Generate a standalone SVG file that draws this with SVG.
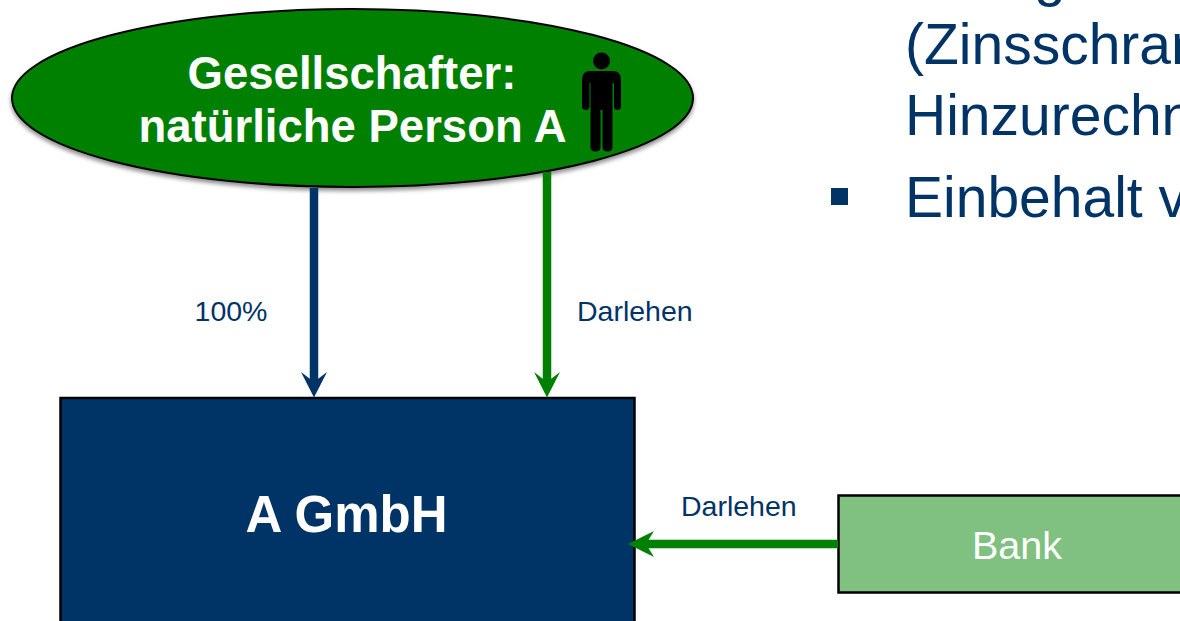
<svg xmlns="http://www.w3.org/2000/svg" width="1180" height="621" viewBox="0 0 1180 621">
<style>
text{font-family:"Liberation Sans",Arial,sans-serif}
.body{font-size:57px;fill:#003366}
.lbl{font-size:28.500px;fill:#003366}
.big{font-weight:bold;fill:#fff;text-anchor:middle}
.box{stroke:#000;stroke-width:2.5}
.c{fill:none;stroke-width:8.500}
</style>
<defs>
<filter id="sh" x="-5%" y="-5%" width="110%" height="115%"><feDropShadow dx="0" dy="3" stdDeviation="2" flood-color="#000" flood-opacity=".45"/></filter>
</defs>
<rect width="1180" height="621" fill="#fff"/>
<g id="bullets">
<text class="body" x="1034" y="-5">g</text>
<text class="body" x="905" y="64">(Zinsschranke</text>
<text class="body" x="905" y="135">Hinzurechnung</text>
<rect x="831" y="188" width="17" height="17" fill="#003366"/>
<text class="body" x="905" y="217">Einbehalt von</text>
</g>
<g id="gesellschafter">
<ellipse cx="352.500" cy="98" rx="340.500" ry="89" fill="#008000" stroke="#000" stroke-width="2" filter="url(#sh)"/>
<text class="big" x="352" y="89" font-size="45.500">Gesellschafter:</text>
<text class="big" x="352.500" y="142" font-size="45.500">natürliche Person A</text>
<g id="person" fill="#000">
<circle cx="601.500" cy="61" r="8.500"/>
<path d="M590 71H613Q621 71 621 80V106Q621 110 617.500 110Q614 110 614 106V83H612.500V147Q612.500 151.500 607.500 151.500Q602.500 151.500 602.500 147V110H600.500V147Q600.500 151.500 595.500 151.500Q590.500 151.500 590.500 147V83H589.500V106Q589.500 110 585.750 110Q582 110 582 106V80Q582 71 590 71Z"/>
</g>
</g>
<g id="label-100"><text class="lbl" x="231" y="320.500" text-anchor="middle">100%</text></g>
<g id="label-darlehen-1"><text class="lbl" x="577" y="320.500">Darlehen</text></g>
<g id="a-gmbh">
<rect class="box" x="60.500" y="398" width="574" height="240" fill="#003366"/>
<text class="big" x="346.500" y="532" font-size="51">A GmbH</text>
</g>
<g id="label-darlehen-2"><text class="lbl" x="681" y="515.500">Darlehen</text></g>
<g id="bank">
<rect class="box" x="838.500" y="495.500" width="360" height="97" fill="#80c080"/>
<text x="1017" y="559" font-size="39.500" fill="#fff" text-anchor="middle">Bank</text>
</g>
<g id="connectors">
<path class="c" stroke="#003366" d="M314 188V385"/>
<path d="M314 397.500L301 372L314 382L327 372Z" fill="#003366"/>
<path class="c" stroke="#008000" d="M547 172V385"/>
<path d="M547 397.500L534 372L547 382L560 372Z" fill="#008000"/>
<path class="c" stroke="#008000" d="M838 544H642"/>
<path d="M628 544L654 531L646 544L654 557Z" fill="#008000"/>
</g>
</svg>
